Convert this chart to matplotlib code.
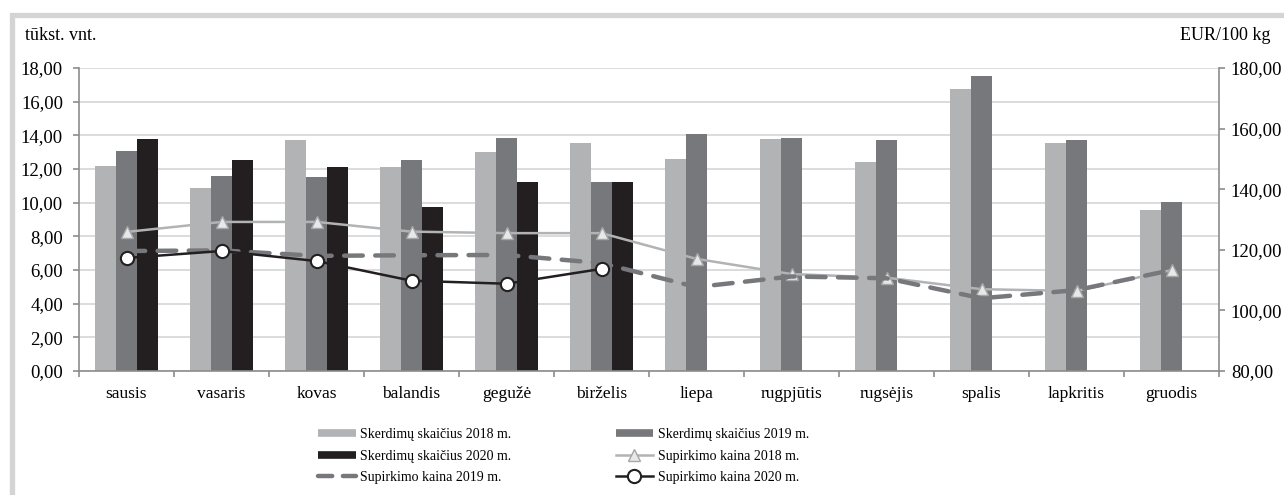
import matplotlib
matplotlib.use("Agg")
import matplotlib.pyplot as plt
import numpy as np
from matplotlib.lines import Line2D
from matplotlib.patches import Rectangle

plt.rcParams['font.family'] = ['Liberation Serif', 'DejaVu Serif']

months = ["sausis", "vasaris", "kovas", "balandis", "gegužė", "birželis",
          "liepa", "rugpjūtis", "rugsėjis", "spalis", "lapkritis", "gruodis"]

skerd_2018 = [12.20, 10.85, 13.75, 12.10, 13.00, 13.55, 12.60, 13.80, 12.40, 16.75, 13.55, 9.55]
skerd_2019 = [13.05, 11.60, 11.50, 12.55, 13.85, 11.20, 14.05, 13.85, 13.70, 17.50, 13.75, 10.05]
skerd_2020 = [13.80, 12.55, 12.10, 9.75, 11.20, 11.25, np.nan, np.nan, np.nan, np.nan, np.nan, np.nan]

kaina_2018 = [125.9, 129.2, 129.2, 126.0, 125.5, 125.5, 117.0, 112.0, 110.8, 107.0, 106.4, 113.3]
kaina_2019 = [119.6, 119.8, 118.0, 118.2, 118.3, 115.6, 107.7, 111.2, 110.6, 104.0, 106.7, 113.3]
kaina_2020 = [117.3, 119.6, 116.3, 109.8, 108.8, 113.7, np.nan, np.nan, np.nan, np.nan, np.nan, np.nan]

left_ticks = np.arange(0, 18.01, 2)
right_ticks = np.arange(80, 180.01, 20)

def fmt(v):
    return f"{v:.2f}".replace(".", ",")

c18, c19, c20 = "#b2b3b5", "#77787b", "#231f20"
axis_col = "#8c8c8c"
grid_col = "#d9d9d9"

fig = plt.figure(figsize=(12.84, 4.95), dpi=100)
ax = fig.add_axes([79/1284, 1-371/495, (1219-79)/1284, (371-68)/495])

x = np.arange(len(months))
w = 0.222
ax.bar(x - w, skerd_2018, w, color=c18, zorder=2)
ax.bar(x, skerd_2019, w, color=c19, zorder=2)
ax.bar(x + w, skerd_2020, w, color=c20, zorder=2)

ax.set_xlim(-0.5, len(months) - 0.5)
ax.set_ylim(0, 18)
ax.set_yticks(left_ticks)
ax.set_yticklabels([fmt(v) for v in left_ticks], fontsize=13.5)
ax.yaxis.grid(True, color=grid_col, lw=1.3, zorder=0)
ax.set_axisbelow(True)

ax.set_xticks(np.arange(-0.5, len(months), 1))
ax.set_xticklabels([])
ax.set_xticks(x, minor=True)
ax.set_xticklabels(months, minor=True, fontsize=12.5)
ax.tick_params(axis='x', which='minor', length=0, pad=11)
ax.tick_params(axis='x', which='major', length=4, color=axis_col, width=1.2, direction='out')
ax.tick_params(axis='y', length=4, color=axis_col, width=1.2, direction='out', pad=7.5)

for s in ['top', 'right']:
    ax.spines[s].set_visible(False)
for s in ['left', 'bottom']:
    ax.spines[s].set_color(axis_col)
    ax.spines[s].set_linewidth(1.2)

ax2 = ax.twinx()
ax2.set_ylim(80, 180)
ax2.set_yticks(right_ticks)
ax2.set_yticklabels([fmt(v) for v in right_ticks], fontsize=13.5)
ax2.tick_params(axis='y', length=4, color=axis_col, width=1.2, direction='out', pad=4.5)
for s in ['top', 'left', 'bottom']:
    ax2.spines[s].set_visible(False)
ax2.spines['right'].set_color(axis_col)
ax2.spines['right'].set_linewidth(1.2)

ax2.plot(x, kaina_2018, color=c18, lw=1.8, marker='^', markersize=8,
         markerfacecolor='#e8e8e8', markeredgecolor='#a5a6a8', markeredgewidth=1, zorder=3)
ax2.plot(x, kaina_2019, color=c19, lw=3.2, linestyle=(0, (4.2, 2.8)),
         dash_capstyle='round', zorder=4)
ax2.plot(x, kaina_2020, color=c20, lw=1.8, marker='o', markersize=9.5,
         markerfacecolor='white', markeredgecolor=c20, markeredgewidth=1.5, zorder=5)

fig.text(25/1284, 1-36/495, "tūkst. vnt.", fontsize=13, ha='left', va='center')
fig.text(1271/1284, 1-36/495, "EUR/100 kg", fontsize=13, ha='right', va='center')

h_s18 = Line2D([], [], color=c18, lw=5.5, solid_capstyle='butt')
h_s19 = Line2D([], [], color=c19, lw=5.5, solid_capstyle='butt')
h_s20 = Line2D([], [], color=c20, lw=5.5, solid_capstyle='butt')
h_k18 = Line2D([], [], color=c18, lw=1.8, marker='^', markersize=8,
               markerfacecolor='#e8e8e8', markeredgecolor='#a5a6a8')
h_k19 = Line2D([], [], color=c19, lw=3.2, linestyle=(0, (3.2, 2.4)), dash_capstyle='round')
h_k20 = Line2D([], [], color=c20, lw=1.8, marker='o', markersize=9.5,
               markerfacecolor='white', markeredgecolor=c20, markeredgewidth=1.5)

handles = [h_s18, h_s20, h_k19, h_s19, h_k18, h_k20]
labels = ["Skerdimų skaičius 2018 m.", "Skerdimų skaičius 2020 m.", "Supirkimo kaina 2019 m.",
          "Skerdimų skaičius 2019 m.", "Supirkimo kaina 2018 m.", "Supirkimo kaina 2020 m."]
leg = fig.legend(handles, labels, ncol=2, loc='upper left',
                 bbox_to_anchor=(318/1284, 1-428/495), frameon=False, fontsize=10,
                 handlelength=2.7, handletextpad=0.35, columnspacing=7.5,
                 labelspacing=0.62, borderpad=0, borderaxespad=0)

fig.patches.append(Rectangle((12/1284, -0.1), 1.2, 1 - 14.5/495 + 0.1,
                             transform=fig.transFigure, fill=False,
                             edgecolor='#d4d4d4', lw=3.8, zorder=-1))

fig.savefig("out.png", dpi=100)
